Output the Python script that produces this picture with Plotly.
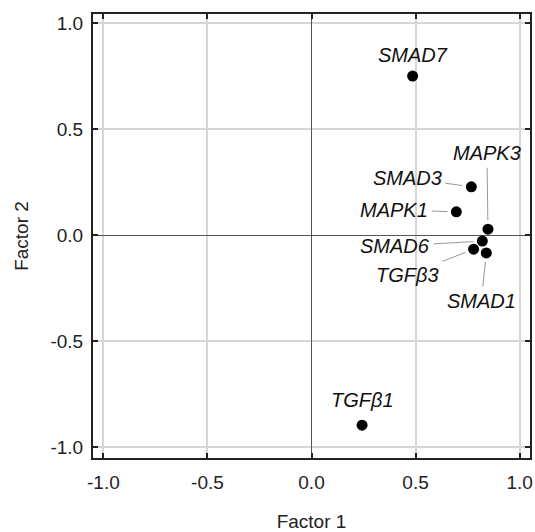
import plotly.graph_objects as go

genes = ["SMAD7", "TGFβ1", "SMAD3", "MAPK1", "MAPK3", "SMAD6", "TGFβ3", "SMAD1"]
factor1 = [0.486, 0.243, 0.768, 0.696, 0.848, 0.821, 0.779, 0.840]
factor2 = [0.751, -0.897, 0.228, 0.110, 0.028, -0.028, -0.066, -0.084]
tick_vals = [-1.0, -0.5, 0.0, 0.5, 1.0]
tick_text = ["-1.0", "-0.5", "0.0", "0.5", "1.0"]

# label offsets (pixels) and whether a leader line is drawn
label_ax = [0, 0, -64, -62, -1, -87, -66, -5]
label_ay = [-21, -25, -9, -2, -76, 5, 26, 48]
leader = [False, False, True, True, True, True, True, True]

FONT = "Liberation Sans, Arial, sans-serif"

fig = go.Figure()
fig.add_trace(go.Scatter(
    x=factor1, y=factor2, mode="markers",
    marker=dict(color="black", size=11),
    hoverinfo="text", text=genes, showlegend=False,
))

for g, xv, yv, ax, ay, ld in zip(genes, factor1, factor2, label_ax, label_ay, leader):
    fig.add_annotation(
        x=xv, y=yv, text=f"<i>{g}</i>", showarrow=True,
        ax=ax, ay=ay, axref="pixel", ayref="pixel",
        arrowhead=0, arrowwidth=1, arrowcolor="#999999" if ld else "rgba(0,0,0,0)",
        standoff=9, borderpad=3,
        font=dict(family=FONT, size=20, color="#111111"),
    )

axis_common = dict(
    tickvals=tick_vals, ticktext=tick_text, automargin=False,
    showgrid=True, gridcolor="#d6d6d6", gridwidth=1.5,
    zeroline=True, zerolinecolor="#555555", zerolinewidth=1,
    showline=True, linecolor="#222222", linewidth=2, mirror="ticks",
    ticks="inside", ticklen=5, tickwidth=1.5, tickcolor="#222222",
    tickfont=dict(family=FONT, size=19, color="#222222"),
)

fig.update_xaxes(range=[-1.05, 1.05], ticklabelstandoff=6,
                 title=dict(text="Factor 1", standoff=27,
                            font=dict(family=FONT, size=19, color="#222222")), **axis_common)
fig.update_yaxes(range=[-1.052, 1.044], ticklabelstandoff=4,
                 title=dict(text="Factor 2", standoff=17,
                            font=dict(family=FONT, size=19, color="#222222")), **axis_common)

fig.update_layout(
    width=535, height=532,
    margin=dict(l=93, r=5, t=14, b=74),
    plot_bgcolor="white", paper_bgcolor="white",
)

# remove the default page margin so the figure fills the window exactly
fig.write_html(
    "out.html",
    config={"displayModeBar": False},
    post_script="document.body.style.margin='0';document.body.style.overflow='hidden';",
)
